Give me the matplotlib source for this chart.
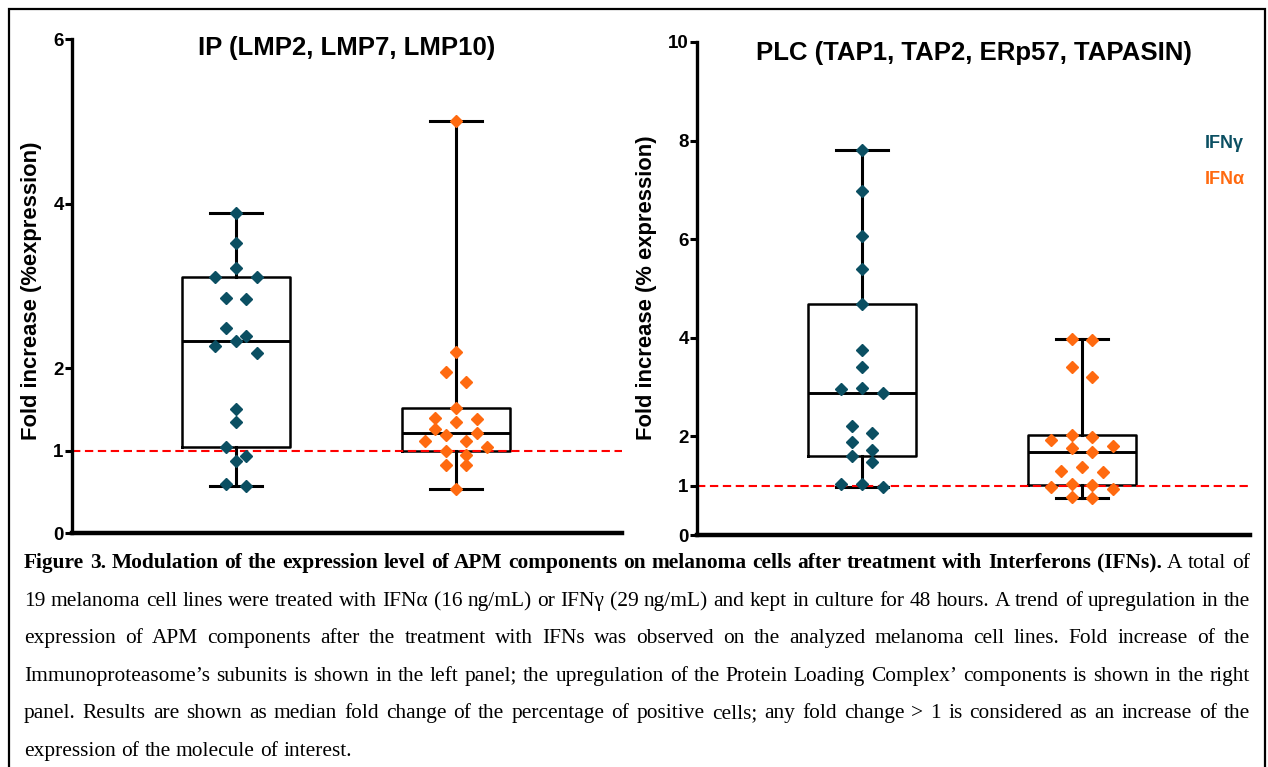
import numpy as np
import matplotlib.pyplot as plt
from matplotlib import cbook
from matplotlib.patches import Rectangle

W, H = 1268, 767

# values (fold increase), 19 cell lines per group
ip_gamma = [3.89, 3.52, 3.22, 3.11, 3.11, 2.86, 2.84, 2.49, 2.39, 2.33,
            2.27, 2.19, 1.51, 1.35, 1.05, 0.94, 0.87, 0.59, 0.57]
ip_alpha = [5.00, 2.20, 1.95, 1.83, 1.52, 1.40, 1.38, 1.35, 1.26, 1.22,
            1.19, 1.12, 1.12, 1.05, 0.99, 0.95, 0.83, 0.83, 0.53]
plc_gamma = [7.80, 6.98, 6.06, 5.40, 4.69, 3.76, 3.41, 2.99, 2.96, 2.89,
             2.22, 2.06, 1.88, 1.72, 1.61, 1.48, 1.04, 1.04, 0.98]
plc_alpha = [3.98, 3.96, 3.40, 3.21, 2.03, 1.98, 1.92, 1.81, 1.76, 1.69,
             1.38, 1.29, 1.27, 1.03, 1.02, 0.98, 0.93, 0.77, 0.75]

titles = ["IP (LMP2, LMP7, LMP10)", "PLC (TAP1, TAP2, ERp57, TAPASIN)"]
ylabels = ["Fold increase (%expression)", "Fold increase (% expression)"]
yticks = [[0, 1, 2, 4, 6], [0, 1, 2, 4, 6, 8, 10]]
ymax = [6, 10]
legend_labels = ["IFN\u03b3", "IFN\u03b1"]

TEAL = "#0b4f62"
ORANGE = "#ff6a10"
SANS = ["Liberation Sans", "DejaVu Sans"]

caption_bold = ("Figure 3. Modulation of the expression level of APM components on melanoma "
                "cells after treatment with Interferons (IFNs).")
caption_lines = [
    caption_bold + " A total of",
    "19 melanoma cell lines were treated with IFN\u03b1 (16 ng/mL) or IFN\u03b3 (29 ng/mL) and kept in culture for 48 hours. A trend of upregulation in the",
    "expression of APM components after the treatment with IFNs was observed on the analyzed melanoma cell lines. Fold increase of the",
    "Immunoproteasome\u2019s subunits is shown in the left panel; the upregulation of the Protein Loading Complex\u2019 components is shown in the right",
    "panel. Results are shown as median fold change of the percentage of  positive cells; any fold change > 1 is considered as an increase of the",
    "expression of the molecule of interest.",
]

fig = plt.figure(figsize=(W / 100, H / 100), dpi=100)
fig.patches.append(Rectangle((9 / W, -0.01), 1256 / W, 1 - 9 / H + 0.01, transform=fig.transFigure,
                             fill=False, edgecolor="black", lw=1.6))

# axes boxes in pixels: x0, x1, y_top, y_bottom
boxes_px = [(72, 622, 39, 533), (697, 1250, 42, 535)]
centers_px = [(236, 456), (862, 1082)]
ax_list = []
for i, (x0, x1, yt, yb) in enumerate(boxes_px):
    ax = fig.add_axes([x0 / W, 1 - yb / H, (x1 - x0) / W, (yb - yt) / H])
    c1, c2 = centers_px[i]
    ppu = c2 - c1
    ax.set_xlim(1 - (c1 - x0) / ppu, 2 + (x1 - c2) / ppu)
    ax.set_ylim(0, ymax[i])
    ax_list.append(ax)


def swarm_offsets(ax, values, step_px=20.7, gap_px=12.0):
    # row based scatter: points closer than one marker share a row, centred
    ys = ax.transData.transform(np.column_stack([np.ones(len(values)), values]))[:, 1]
    ppu_x = ax.transData.transform([[2, 0]])[0, 0] - ax.transData.transform([[1, 0]])[0, 0]
    order = list(np.argsort(values, kind="stable")[::-1])
    rows = []
    for i in order:
        if rows and ys[rows[-1][0]] - ys[i] < gap_px:
            rows[-1].append(i)
        else:
            rows.append([i])
    offs = np.zeros(len(values))
    for row in rows:
        n = len(row)
        if n % 2:
            slots = [0] + [s * k for k in range(1, n) for s in (-1, 1)]
        else:
            slots = [s * (k - 0.5) for k in range(1, n) for s in (-1, 1)]
        for i, s in zip(row, slots):
            offs[i] = s
    return offs * step_px / ppu_x


groups = [(ip_gamma, ip_alpha), (plc_gamma, plc_alpha)]
for i, ax in enumerate(ax_list):
    g, a = groups[i]
    stats = cbook.boxplot_stats([g, a], whis=(0, 100))
    for s, d in zip(stats, [g, a]):
        s["q1"] = np.percentile(d, 25, method="weibull")
        s["q3"] = np.percentile(d, 75, method="weibull")
    ax.bxp(stats, positions=[1, 2], widths=0.49, capwidths=0.236, showfliers=False,
           boxprops=dict(color="black", lw=1.8),
           medianprops=dict(color="black", lw=2.1),
           whiskerprops=dict(color="black", lw=2.2),
           capprops=dict(color="black", lw=2.2), manage_ticks=False)
    for pos, d, col in [(1, g, TEAL), (2, a, ORANGE)]:
        off = swarm_offsets(ax, d)
        ax.plot(pos + off, d, ls="none", marker="D", ms=6.3, color=col, mec=col, zorder=4)

    ax.axhline(1, color="#ff0000", lw=1.5, dashes=(4, 2.2), zorder=2)

    for side in ["top", "right"]:
        ax.spines[side].set_visible(False)
    ax.spines["left"].set_linewidth(2.4)
    ax.spines["bottom"].set_linewidth(3.2)
    ax.set_xticks([])
    ax.set_yticks(yticks[i], labels=[str(t) for t in yticks[i]],
                  fontsize=13.5, fontweight="bold", family=SANS)
    ax.tick_params(axis="y", length=5, width=2.2, pad=1)
    ax.set_ylabel(ylabels[i], fontsize=15.8, fontweight="bold", family=SANS)
    ax.patch.set_alpha(0)
    ax.text(0.5, 0.982 if i == 0 else 0.977, titles[i], transform=ax.transAxes,
            ha="center", va="center", fontsize=18.5, fontweight="bold", family=SANS)

ax_list[0].yaxis.set_label_coords(32 / W, 1 - 291 / H, transform=fig.transFigure)
ax_list[1].yaxis.set_label_coords(646 / W, 1 - 288 / H, transform=fig.transFigure)
for ax in ax_list:
    ax.yaxis.label.set_va("center")

# legend as coloured text
fig.text(1205 / W, 1 - 143 / H, legend_labels[0], color=TEAL, fontsize=13, fontweight="bold",
         family=SANS, va="center", ha="left")
fig.text(1205 / W, 1 - 180 / H, legend_labels[1], color=ORANGE, fontsize=13, fontweight="bold",
         family=SANS, va="center", ha="left")

# caption, justified word by word
renderer = fig.canvas.get_renderer()
n_bold = len(caption_bold.split())
x_left, x_right = 24, 1250
baselines = [568, 606, 643, 681, 718, 756]
SPACE_EM = 0.25


def word_weight(li, wi):
    return "bold" if (li == 0 and wi < n_bold) else "normal"


# font size chosen so the widest full line fits with normal word spacing
probe = 10.0
need = []
for li, line in enumerate(caption_lines[:-1]):
    words = line.split()
    tot = 0.0
    for wi, w in enumerate(words):
        t = fig.text(0, 0, w, fontsize=probe, fontweight=word_weight(li, wi), family="Liberation Serif")
        tot += t.get_window_extent(renderer).width
        t.remove()
    tot += (len(words) - 1) * SPACE_EM * probe * 100 / 72
    need.append(probe * (x_right - x_left) / tot)
cap_size = min(need)

for li, line in enumerate(caption_lines):
    words = line.split()
    arts = []
    for wi, w in enumerate(words):
        arts.append(fig.text(0, 1 - baselines[li] / H, w, fontsize=cap_size, fontweight=word_weight(li, wi),
                             family="Liberation Serif", va="baseline", ha="left"))
    widths = [t.get_window_extent(renderer).width for t in arts]
    if li < len(caption_lines) - 1:
        gap = (x_right - x_left - sum(widths)) / (len(arts) - 1)
    else:
        gap = SPACE_EM * cap_size * 100 / 72
    x = x_left
    for t, wd in zip(arts, widths):
        t.set_x(x / W)
        x += wd + gap

fig.savefig("out.png", dpi=100)
